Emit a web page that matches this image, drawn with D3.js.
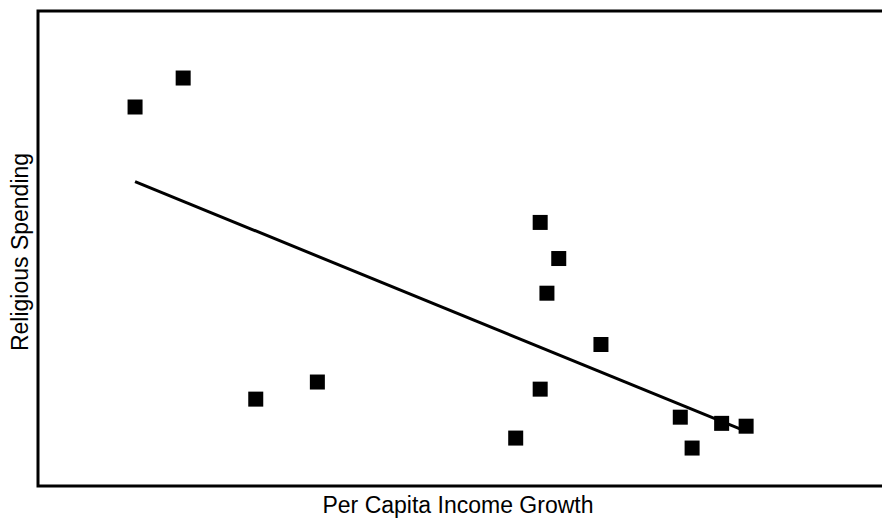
<!DOCTYPE html>
<meta charset="utf-8">
<title>Religious Spending vs Income Growth</title>
<style>
    body { margin: 0; background: #fff; }
    text { font-family: "Liberation Sans", Arial, sans-serif; fill: #000; }
</style>
<body>
<svg id="chart" width="882" height="519"></svg>
<script src="https://d3js.org/d3.v7.min.js"></script>
<script>
    // values (axes carry no ticks, so units are arbitrary 0-100)
    var incomeGrowth = [11.5, 17.2, 25.8, 33.1, 59.5, 61.7, 60.3, 66.7, 59.5, 56.6, 76.1, 77.5, 81.0, 83.9];
    var religiousSpending = [80.0, 86.1, 18.5, 22.1, 55.7, 48.1, 40.8, 30.0, 20.6, 10.3, 14.7, 8.2, 13.4, 12.8];
    // fitted line end points
    var fitX = [11.5, 83.9];
    var fitY = [64.3, 11.7];

    var svg = d3.select("#chart");
    var mLeft = 38, mTop = 11, mBottom = 486, mRight = 900;

    var x = d3.scaleLinear().domain([0, 100]).range([mLeft, 882]);
    var y = d3.scaleLinear().domain([0, 100]).range([mBottom + 1, mTop + 1]);

    // frame (right side falls outside the window)
    svg.append("path")
        .attr("d", "M" + mRight + "," + mTop + "H" + mLeft + "V" + mBottom + "H" + mRight)
        .attr("fill", "none")
        .attr("stroke", "#000")
        .attr("stroke-width", 3);

    // regression line
    var fit = fitX.map(function (d, i) { return [d, fitY[i]]; });
    svg.append("path")
        .datum(fit)
        .attr("d", d3.line().x(function (d) { return x(d[0]); }).y(function (d) { return y(d[1]); }))
        .attr("fill", "none")
        .attr("stroke", "#000")
        .attr("stroke-width", 3);

    // points
    var s = 15;
    svg.append("g").selectAll("rect")
        .data(incomeGrowth)
        .enter()
        .append("rect")
        .attr("x", function (d) { return x(d) - s / 2; })
        .attr("y", function (d, i) { return y(religiousSpending[i]) - s / 2; })
        .attr("width", s)
        .attr("height", s)
        .attr("fill", "#000");

    // axis titles
    svg.append("text")
        .attr("x", 458)
        .attr("y", 513)
        .attr("text-anchor", "middle")
        .style("font-size", "23px")
        .text("Per Capita Income Growth");

    svg.append("text")
        .attr("transform", "translate(28,252) rotate(-90)")
        .attr("text-anchor", "middle")
        .style("font-size", "23px")
        .text("Religious Spending");
</script>
</body>
